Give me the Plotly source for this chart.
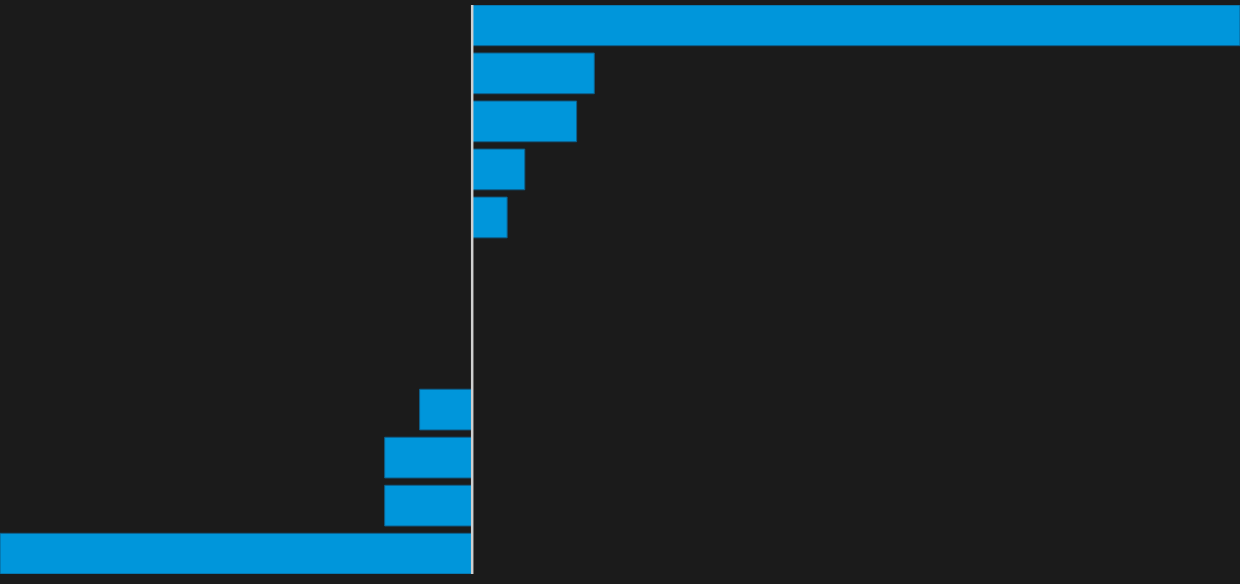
import plotly.graph_objects as go

categories = ["c1", "c2", "c3", "c4", "c5", "c6", "c7", "c8", "c9", "c10", "c11", "c12"]
values = [100, 15.9, 13.6, 6.85, 4.55, 0, 0, 0, -6.85, -11.4, -11.4, -61.5]

BG = "#1b1b1b"
BAR = "#0096db"
w = 0.847

fig = go.Figure(
    go.Bar(
        y=categories,
        x=values,
        orientation="h",
        marker=dict(
            color=BAR,
            line=dict(color="#0d5f8c", width=[0 if v == 0 else 1 for v in values]),
        ),
        width=w,
        hoverinfo="skip",
    )
)

fig.update_layout(
    width=1240,
    height=584,
    paper_bgcolor=BG,
    plot_bgcolor=BG,
    margin=dict(l=0, r=0, t=5, b=10),
    showlegend=False,
    shapes=[
        dict(
            type="line",
            xref="x",
            yref="paper",
            x0=0,
            x1=0,
            y0=0,
            y1=1,
            line=dict(color="#cfcfcf", width=2.5),
            layer="above",
        )
    ],
)
fig.update_xaxes(
    range=[-61.5, 100],
    showgrid=False,
    showticklabels=False,
    zeroline=False,
)
fig.update_yaxes(
    type="category",
    range=[11 + w / 2, -w / 2],
    showgrid=False,
    showticklabels=False,
    zeroline=False,
)

fig.write_html(
    "out.html",
    config={"displayModeBar": False},
    post_script="document.body.style.margin='0';document.body.style.background='#1b1b1b';",
)
